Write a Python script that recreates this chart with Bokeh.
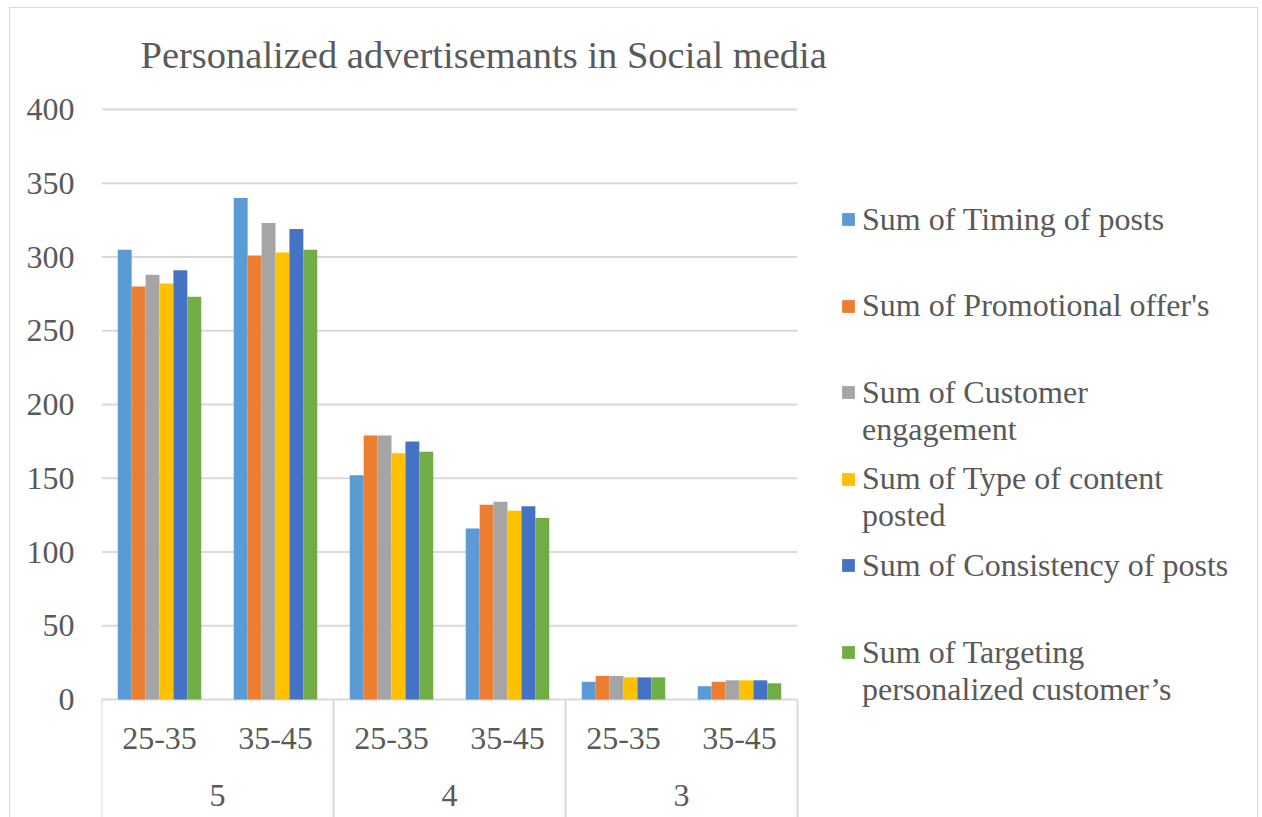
import numpy as np
from bokeh.plotting import figure
from bokeh.models import (ColumnDataSource, Range1d, FixedTicker,
                          Legend, LegendItem, Label)
from bokeh.transform import dodge
from bokeh.core.properties import value
from bokeh.embed import file_html
from bokeh.resources import INLINE

# ---------------- data ----------------
title_text = "Personalized advertisemants in Social media"
groups = ["5", "4", "3"]
ages = ["25-35", "35-45"]
series_names = [
    "Sum of Timing of posts",
    "Sum of Promotional offer's",
    "Sum of Customer\nengagement",
    "Sum of Type of content\nposted",
    "Sum of Consistency of posts",
    "Sum of Targeting\npersonalized customer\u2019s",
]
timing = [305, 340, 152, 116, 12, 9]
promotional = [280, 301, 179, 132, 16, 12]
engagement = [288, 323, 179, 134, 16, 13]
content_type = [282, 303, 167, 128, 15, 13]
consistency = [291, 319, 175, 131, 15, 13]
targeting = [273, 305, 168, 123, 15, 11]
y_ticks = [0, 50, 100, 150, 200, 250, 300, 350, 400]
colors = ["#5B9BD5", "#ED7D31", "#A5A5A5", "#FFC000", "#4472C4", "#70AD47"]

series = [timing, promotional, engagement, content_type, consistency, targeting]
n_sub = len(ages)
n_cat = len(groups) * n_sub
xs = np.arange(n_cat) + 0.5                       # category centres
sub_labels = [a for g in groups for a in ages]
grp_centres = np.arange(len(groups)) * n_sub + n_sub / 2
separators = np.arange(len(groups) + 1) * n_sub

keys = ["s%d" % i for i in range(len(series))]
data = {"x": xs}
for k, s in zip(keys, series):
    data[k] = s
src = ColumnDataSource(data)

FONT = "Liberation Serif"
TXT = "#595959"
GRID = "#d9d9d9"

# geometry (pixels)
W, H = 1247, 809
LEFT = 91
PX_PER_CAT = 116.0
PX_PER_UNIT = 1.475
ZERO_FROM_TOP = 691

frame_w = W - LEFT
x_range = Range1d(0, frame_w / PX_PER_CAT)
y_range = Range1d(-(H - ZERO_FROM_TOP) / PX_PER_UNIT, ZERO_FROM_TOP / PX_PER_UNIT)

p = figure(width=W, height=H, x_range=x_range, y_range=y_range,
           output_backend="svg", toolbar_location=None,
           min_border_left=LEFT, min_border_right=0, min_border_top=0,
           min_border_bottom=0, outline_line_color=None)
p.margin = (8, 0, 0, 10)
p.styles = {"outline": "1px solid #d9d9d9"}

p.xaxis.visible = False
p.xgrid.visible = False
p.ygrid.visible = False
p.yaxis.ticker = FixedTicker(ticks=y_ticks)
p.yaxis.axis_line_color = None
p.yaxis.major_tick_line_color = None
p.yaxis.minor_tick_line_color = None
p.yaxis.major_label_text_font = FONT
p.yaxis.major_label_text_font_size = "32px"
p.yaxis.major_label_text_color = TXT
p.yaxis.major_label_standoff = 21

# horizontal gridlines over the plotting area only
p.segment(x0=0, x1=n_cat, y0=y_ticks, y1=y_ticks, line_color=GRID, line_width=2)

bar_w = 0.12
offsets = [(i - (len(series) - 1) / 2) * bar_w for i in range(len(series))]
renderers = []
for k, c, off in zip(keys, colors, offsets):
    r = p.vbar(x=dodge("x", off), top=k, width=bar_w, bottom=0,
               source=src, fill_color=c, line_color=None)
    renderers.append(r)

# category axis boxes
p.segment(x0=separators, x1=separators, y0=0, y1=y_range.start,
          line_color=GRID, line_width=2)
p.text(x=xs, y=-26.5, text=sub_labels,
       text_font=value(FONT), text_font_size="32px", text_color=TXT,
       text_align="center", text_baseline="middle")
p.text(x=grp_centres, y=-65, text=groups,
       text_font=value(FONT), text_font_size="32px", text_color=TXT,
       text_align="center", text_baseline="middle")

# title
p.add_layout(Label(x=39, y=H - 46, x_units="screen", y_units="screen",
                   text=title_text, text_font=FONT, text_font_size="38.5px",
                   text_color=TXT, text_baseline="alphabetic"))

# legend: one entry block per series, first line aligned with its swatch
first_centre, pitch = 211.0, 86.6     # from figure top
line_h = 1.15
for i, (name, r) in enumerate(zip(series_names, renderers)):
    n_lines = name.count("\n") + 1
    label = name if n_lines == 1 else "\n" + name
    lines = 1 if n_lines == 1 else 2 * n_lines - 1
    box_h = int(np.ceil(lines * 32 * line_h)) + 1
    centre = first_centre + pitch * i
    bottom_from_top = centre + box_h / 2
    lg = Legend(items=[LegendItem(label=label, renderers=[r])],
                location=(739, H - bottom_from_top), orientation="vertical",
                glyph_width=16, glyph_height=16, label_standoff=6,
                label_height=box_h, spacing=0, padding=0, margin=0,
                border_line_color=None, background_fill_alpha=0,
                label_text_font=FONT, label_text_font_size="32px",
                label_text_line_height=line_h, label_text_color=TXT)
    p.add_layout(lg, "center")

open("out.html", "w").write(file_html(p, INLINE))
